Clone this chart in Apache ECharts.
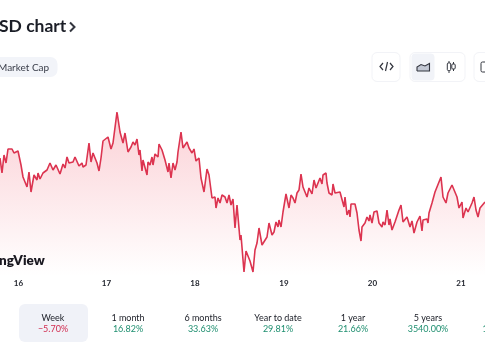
<!DOCTYPE html>
<html>
<head>
<meta charset="utf-8">
<style>html,body{margin:0;padding:0;background:#fff;overflow:hidden}</style>
<script src="https://cdn.jsdelivr.net/npm/echarts@6/dist/echarts.min.js"></script>
</head>
<body>
<div id="main" style="width:485px;height:360px"></div>
<script>
var sampleTimes = [0,1,2,4,6,8,10,12,14,16,18,19,21,23,25,27,29,31,34,37,38,40,43,45,47,50,53,56,60,63,65,67,69,73,75,77,79,82,83,86,89,91,93,97,99,101,103,108,111,113,117,120,123,125,128,131,133,135,137,139,140,142,143,147,148,150,152,153,155,158,159,162,165,168,169,171,173,175,177,178,181,183,185,187,189,192,194,196,199,201,204,207,209,212,214,215,216,218,220,222,225,227,229,231,233,235,237,240,241,244,246,250,252,253,255,257,259,262,264,267,269,272,274,276,278,279,281,283,286,288,289,291,293,295,297,299,301,303,307,309,312,314,316,318,320,322,323,326,327,329,332,333,335,337,340,344,345,347,349,350,351,355,357,359,361,362,365,367,369,370,372,374,377,379,382,383,385,387,389,390,392,395,397,399,401,403,405,407,410,412,414,417,420,422,423,425,427,428,429,432,435,437,441,443,446,448,452,454,457,459,462,463,466,468,472,474,476,478,480,482,485];
var prices = [118,120,103,121,113,127,127,127,123,125,125,123,111,99,101,89,104,84,101,96,103,97,103,101,106,113,106,111,102,112,108,119,113,114,119,119,110,113,109,111,133,114,123,113,105,118,135,139,127,133,164,144,133,143,124,129,134,131,137,121,126,105,116,101,114,111,119,111,122,119,132,126,116,104,113,98,113,106,114,124,144,128,126,134,128,123,127,115,118,98,84,107,101,78,78,79,68,78,73,81,79,73,81,71,77,48,71,36,41,4,25,15,14,4,26,33,48,31,30,39,53,41,44,54,49,56,49,64,82,82,68,81,78,73,83,86,102,89,79,88,82,96,88,89,98,92,101,103,93,83,81,92,83,85,84,69,79,61,66,59,72,72,63,46,35,49,53,59,55,61,53,64,65,53,49,54,51,66,51,57,46,54,56,66,71,54,56,59,49,55,43,54,60,45,56,54,57,53,63,73,84,83,99,79,73,83,91,89,79,68,74,58,68,64,73,79,66,59,68,66,74];
var dayTicks = [18.5,106.5,195,284,372.5,461];
var dayLabels = ['16','17','18','19','20','21'];
var periods = ['Week','1 month','6 months','Year to date','1 year','5 years'];
var changes = ['\u22125.70%','16.82%','33.63%','29.81%','21.66%','3540.00%'];

var ink = '#1a1d26';
var red = '#d12c50';
var green = '#1f8f70';
var btnLine = '#f2f3f7';
var iconInk = '#33363f';

function txt(x, y, s, font, fill, align) {
    return {type: 'text', x: x, y: y, silent: true, style: {text: s, font: font, fill: fill, textAlign: align || 'left', textVerticalAlign: 'middle'}};
}
function box(x, y, w, h, r, fill, stroke) {
    return {type: 'rect', silent: true, shape: {x: x, y: y, width: w, height: h, r: r}, style: {fill: fill, stroke: stroke || null, lineWidth: 1}};
}
function path(points, width, fill) {
    return {type: 'polyline', silent: true, shape: {points: points}, style: {fill: fill || null, stroke: iconInk, lineWidth: width}};
}

var graphics = [
    txt(-1, 26.5, 'SD chart', '700 17.5px Lato, sans-serif', ink),
    path([[70, 22.5], [74.5, 27], [70, 31.5]], 2),
    box(-10, 57, 67.5, 20, 7, '#f2f4f9'),
    txt(-2, 67.5, 'Market Cap', '10px Lato, sans-serif', '#3a3e4a'),

    box(372, 52.5, 28, 29, 5, '#fff', btnLine),
    path([[383, 63], [380, 66.5], [383, 70]], 1.2),
    path([[387.5, 62], [385.5, 71]], 1.2),
    path([[390, 63], [393, 66.5], [390, 70]], 1.2),

    box(410, 52.5, 55, 29, 5, '#fff', btnLine),
    box(411.5, 53.5, 23, 27, 4, '#f1f3f8'),
    path([[417, 71], [417, 67], [421, 64.5], [425, 66], [429.5, 63.5], [429.5, 71], [417, 71]], 1.1, '#c3c8d4'),
    path([[449, 61], [449, 73]], 1),
    box(447.3, 63, 3.4, 7.5, 1, '#fff', iconInk),
    path([[453.5, 62], [453.5, 71]], 1),
    box(451.8, 64, 3.4, 5, 1, '#fff', iconInk),

    box(474, 52.5, 30, 29, 5, '#fff', btnLine),
    box(481, 62, 9, 10, 1.5, '#fff', iconInk),

    txt(-1, 261, 'ngView', '800 13.5px Lato, sans-serif', '#15171f'),

    box(19, 304, 69, 38, 6, '#f0f2f8')
];
periods.forEach(function (name, i) {
    var cx = 53 + i * 75;
    graphics.push(txt(cx, 318, name, '9px Lato, sans-serif', ink, 'center'));
    graphics.push(txt(cx, 329.5, changes[i], '9px Lato, sans-serif', i === 0 ? red : green, 'center'));
});
graphics.push(txt(482.5, 329.5, '1', '9px Lato, sans-serif', green));

var myChart = echarts.init(document.getElementById('main'), null, {renderer: 'canvas'});

var option = {
    animation: false,
    backgroundColor: '#fff',
    grid: {left: 0, right: 0, top: 100, bottom: 84},
    xAxis: {
        type: 'value',
        min: 0,
        max: 485,
        splitLine: {show: false},
        axisLine: {show: false},
        axisTick: {show: false},
        axisLabel: {
            customValues: dayTicks,
            margin: 3,
            fontFamily: 'Lato, sans-serif',
            fontSize: 8,
            fontWeight: 700,
            color: '#23262f',
            formatter: function (v) {
                return dayLabels[dayTicks.indexOf(v)];
            }
        }
    },
    yAxis: {type: 'value', min: 0, max: 176, show: false},
    series: [
        {
            type: 'line',
            data: sampleTimes.map(function (t, i) { return [t, prices[i]]; }),
            showSymbol: false,
            silent: true,
            lineStyle: {color: '#dc3450', width: 1.6},
            areaStyle: {
                color: new echarts.graphic.LinearGradient(0, 0, 0, 1, [
                    {offset: 0, color: 'rgba(240,70,90,0.36)'},
                    {offset: 1, color: 'rgba(240,70,90,0)'}
                ])
            }
        }
    ],
    graphic: {elements: graphics}
};

myChart.setOption(option);
</script>
</body>
</html>
